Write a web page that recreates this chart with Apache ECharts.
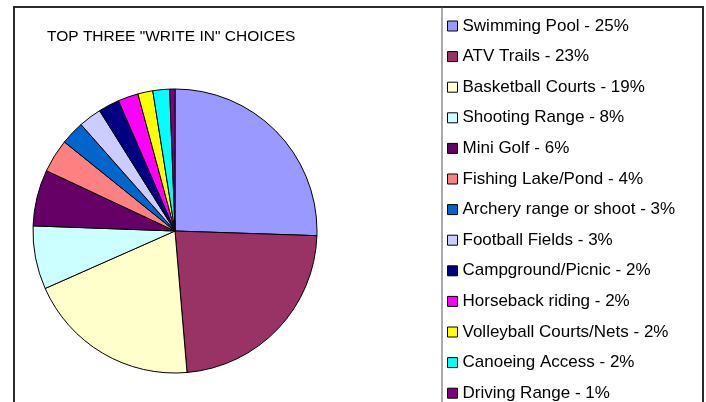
<!DOCTYPE html>
<html>
<head>
<meta charset="utf-8">
<script src="https://cdn.jsdelivr.net/npm/echarts@6/dist/echarts.min.js"></script>
<style>
	html, body { margin: 0; padding: 0; background: #fff; }
	#chart { width: 706px; height: 402px; }
</style>
</head>
<body>
<div id="chart"></div>
<script>
// 分类名称
var categories = [
	'Swimming Pool', 'ATV Trails', 'Basketball Courts', 'Shooting Range', 'Mini Golf',
	'Fishing Lake/Pond', 'Archery range or shoot', 'Football Fields', 'Campground/Picnic',
	'Horseback riding', 'Volleyball Courts/Nets', 'Canoeing Access', 'Driving Range'
]
// 图例上的百分比文字
var percentLabels = ['25%', '23%', '19%', '8%', '6%', '4%', '3%', '3%', '2%', '2%', '2%', '2%', '1%']
// 扇区大小（从图上估计）
var values = [25.5, 23.1, 19.7, 7.2, 6.4, 3.8, 2.7, 2.6, 2.4, 2.3, 1.7, 1.9, 0.6]
// 扇区颜色
var colors = [
	'#9999ff', '#993366', '#ffffcc', '#ccffff', '#660066', '#ff8080', '#0066cc',
	'#ccccff', '#000080', '#ff00ff', '#ffff00', '#00ffff', '#800080'
]

var chart = echarts.init(document.getElementById('chart'))

var pieData = categories.map(function(name, i) {
	return { name: name, value: values[i] }
})

var option = {
	animation: false,
	color: colors,
	title: {
		text: 'TOP THREE "WRITE IN" CHOICES',
		left: 47,
		top: 29,
		padding: 0,
		textStyle: {
			fontFamily: 'Liberation Sans',
			fontSize: 15.5,
			fontWeight: 'normal',
			color: '#000'
		}
	},
	legend: {
		orient: 'vertical',
		left: 447,
		top: 16,
		height: 500,
		padding: 0,
		itemWidth: 10,
		itemHeight: 10,
		itemGap: 10.6,
		icon: 'rect',
		selectedMode: false,
		itemStyle: {
			borderColor: '#000',
			borderWidth: 1
		},
		textStyle: {
			fontFamily: 'Liberation Sans',
			fontSize: 17,
			lineHeight: 20,
			color: '#000',
			padding: [0, 0, 0, 0]
		},
		formatter: function(name) {
			var i = categories.indexOf(name)
			return name + ' - ' + percentLabels[i]
		},
		data: categories
	},
	graphic: [
		{
			// 外框
			type: 'rect',
			shape: { x: 14, y: 7, width: 689, height: 420 },
			style: { fill: 'none', stroke: '#2b2b2b', lineWidth: 2 },
			z: 0
		},
		{
			// 图例框
			type: 'line',
			shape: { x1: 442, y1: 7, x2: 442, y2: 402 },
			style: { stroke: '#555', lineWidth: 1 },
			z: 0
		}
	],
	series: [
		{
			type: 'pie',
			center: [175, 231],
			radius: 142,
			startAngle: 90,
			clockwise: true,
			label: { show: false },
			labelLine: { show: false },
			emphasis: { disabled: true },
			itemStyle: {
				borderColor: '#000',
				borderWidth: 1
			},
			data: pieData
		}
	]
}

chart.setOption(option)
</script>
</body>
</html>
